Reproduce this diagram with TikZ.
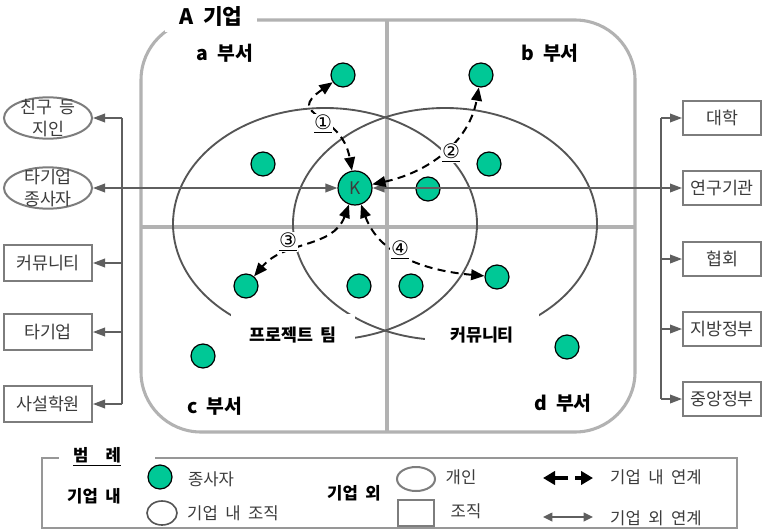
\documentclass[tikz,border=0pt]{standalone}
\usepackage{fontspec}
\setmainfont{Noto Sans CJK KR}[WordSpace=2]
\newfontfamily\numfont{DejaVu Sans}
\usetikzlibrary{arrows.meta,shapes.geometric}
\definecolor{empgreen}{RGB}{0,200,150}
\definecolor{framegray}{RGB}{178,178,178}
\definecolor{ellgray}{RGB}{85,85,85}
\definecolor{linegray}{RGB}{95,95,95}
\definecolor{boxgray}{RGB}{125,125,125}
\definecolor{txtgray}{RGB}{60,60,60}
\tikzset{
  bigframe/.style={draw=framegray, line width=2.3pt, rounded corners=45pt},
  divider/.style={draw=framegray, line width=3pt},
  orgell/.style={ellipse, draw=ellgray, line width=1.4pt, minimum width=228pt, minimum height=174pt, inner sep=0pt},
  gaplabel/.style={fill=white, inner sep=0pt, font=\bfseries\fontsize{13}{15}\selectfont, minimum height=31.5pt},
  dept/.style={font=\bfseries\fontsize{14.5}{17}\selectfont},
  emp/.style={circle, fill=empgreen, draw=black, line width=0.9pt, minimum size=18pt, inner sep=0pt},
  kemp/.style={circle, fill=empgreen, draw=black, line width=0.9pt, minimum size=25.5pt, inner sep=0pt, text=txtgray, font=\fontsize{13}{13}\selectfont},
  pers/.style={ellipse, draw=boxgray, line width=1.5pt, minimum width=66pt, minimum height=31pt, inner sep=0pt, fill=white},
  orgbox/.style={rectangle, draw=boxgray, line width=1.5pt, minimum width=66pt, minimum height=27pt, inner sep=0pt, fill=white, text=txtgray, font=\fontsize{13}{15}\selectfont},
  rbox/.style={orgbox, minimum width=58.5pt, minimum height=26pt},
  trunk/.style={draw=linegray, line width=1pt},
  conn/.style={draw=linegray, line width=1.1pt, -{Triangle[length=9pt,width=6.5pt]}},
  dasharr/.style={draw=black, line width=1.5pt, dash pattern=on 6pt off 4pt, {Triangle[length=10pt,width=8pt]}-{Triangle[length=10pt,width=8pt]}},
  numlab/.style={fill=white, inner sep=0.6pt, font=\numfont\fontsize{15}{15}\selectfont},
  legtxt/.style={text=txtgray, font=\fontsize{12.5}{14}\selectfont},
  legbold/.style={font=\bfseries\fontsize{12.5}{14}\selectfont},
}
\begin{document}
\begin{tikzpicture}[x=0.75pt,y=-0.75pt]
\useasboundingbox (0,0) rectangle (762,531);
\fill[white] (0,0) rectangle (762,531);

% company frame and dividers
\draw[bigframe] (141,20) rectangle (635,432);
\draw[divider] (387,20) -- (387,432);
\draw[divider] (141,227) -- (635,227);

% organisations inside
\node[orgell] (pt) at (325,224) {};
\node[orgell] (cm) at (445,224) {};
\node[gaplabel, minimum width=93pt] (ptl) at (293,335) {프로젝트 팀};
\node[gaplabel, minimum width=85pt] (cml) at (482,335) {커뮤니티};

% titles
\node[fill=white, inner sep=0pt, minimum width=69pt, minimum height=22pt, font=\bfseries\fontsize{16}{18}\selectfont] (A) at (211,17) {A 기업};
\node[dept] (da) at (225,53) {a 부서};
\node[dept] (db) at (550,53) {b 부서};
\node[dept] (dc) at (215,406) {c 부서};
\node[dept] (dd) at (563,403) {d 부서};

% employees
\node[emp] (e1) at (343,75) {};
\node[emp] (e2) at (263,164) {};
\node[emp] (e3) at (481,75) {};
\node[emp] (e4) at (489,164) {};
\node[emp] (e5) at (428,189) {};
\node[emp] (e6) at (246,286) {};
\node[emp] (e7) at (359,286) {};
\node[emp] (e8) at (411,286) {};
\node[emp] (e9) at (497,277) {};
\node[emp] (e10) at (203,356) {};
\node[emp] (e11) at (567,347) {};
\node[kemp] (K) at (355,188) {K};

% outside: left
\node[pers, label={[align=center, text=txtgray, font=\fontsize{13}{16.5}\selectfont]center:친구 등\\지인}] (L1) at (48,118) {};
\node[pers, label={[align=center, text=txtgray, font=\fontsize{13}{16.5}\selectfont]center:타기업\\종사자}] (L2) at (48,188) {};
\node[orgbox] (L3) at (48,263) {커뮤니티};
\node[orgbox] (L4) at (48,332) {타기업};
\node[orgbox] (L5) at (48,404) {사설학원};

% outside: right
\node[rbox] (R1) at (722,118) {대학};
\node[rbox] (R2) at (722,188) {연구기관};
\node[rbox] (R3) at (722,259) {협회};
\node[rbox] (R4) at (722,329) {지방정부};
\node[rbox] (R5) at (722,399) {중앙정부};

% left trunk
\coordinate (lt1) at (122,118);
\coordinate (lt2) at (122,188);
\coordinate (lt3) at (122,263);
\coordinate (lt4) at (122,332);
\coordinate (lt5) at (122,404);
\draw[trunk] (lt1) -- (lt5);
\foreach \i in {1,...,5} {\draw[conn] (lt\i) -- (L\i);}
\draw[conn] (lt2) -- (K);

% right trunk
\coordinate (rt1) at (661,118);
\coordinate (rt2) at (661,188);
\coordinate (rt3) at (661,259);
\coordinate (rt4) at (661,329);
\coordinate (rt5) at (661,399);
\draw[trunk] (rt1) -- (rt5);
\foreach \i in {1,...,5} {\draw[conn] (rt\i) -- (R\i);}
\draw[conn] (rt2) -- (K);

% internal links
\draw[dasharr] (e1) to[out=215, in=100, looseness=1.7] (K);
\draw[dasharr] (K) to[out=12, in=-100, looseness=1.0] (e3);
\draw[dasharr] (K) to[out=250, in=50, looseness=1.0] (e6);
\draw[dasharr] (K) to[out=290, in=175, looseness=1.0] (e9);
\node[numlab] (n1) at (323,124) {\underline{①}};
\node[numlab] (n2) at (451,153) {\underline{②}};
\node[numlab] (n3) at (288,242) {\underline{③}};
\node[numlab] (n4) at (400,250) {\underline{④}};

% legend
\draw[draw=boxgray!80, line width=1.2pt] (42,458) rectangle (737,528);
\node[fill=white, inner sep=0pt, minimum width=72pt, minimum height=31.5pt] (lgbg) at (107,461) {};
\node[legbold] (lgt) at (97,457) {\underline{범\hspace{13pt}례}};
\node[legbold] (lin) at (94,496) {기업 내};
\node[emp] (lemp) at (160,477) {};
\node[legtxt] (lempt) at (211,479) {종사자};
\node[ellipse, draw=ellgray, line width=1.2pt, minimum width=22.5pt, minimum height=18pt, inner sep=0pt] (lorg) at (162,513) {};
\node[legtxt] (lorgt) at (233,513) {기업 내 조직};
\node[legbold] (lout) at (354,493) {기업 외};
\node[pers, minimum width=28.5pt, minimum height=18pt] (lper) at (416,479) {};
\node[legtxt] (lpert) at (461,477) {개인};
\node[rectangle, draw=boxgray, line width=1.5pt, minimum width=27pt, minimum height=20pt, inner sep=0pt, fill=white] (lbox) at (416,513) {};
\node[legtxt] (lboxt) at (466,511) {조직};
\coordinate (la1) at (543,478);
\coordinate (la2) at (568,478);
\coordinate (la3) at (575,478);
\coordinate (la4) at (593,478);
\draw[black, line width=3pt, -{Triangle[length=9pt,width=10pt]}] (la2) -- (la1);
\draw[black, line width=3pt, -{Triangle[length=9pt,width=10pt]}] (la3) -- (la4);
\node[legtxt] (lint) at (656,477) {기업 내 연계};
\coordinate (lb1) at (543,517);
\coordinate (lb2) at (593,517);
\draw[draw=linegray, line width=1.1pt, {Triangle[length=7pt,width=6.5pt]}-{Triangle[length=7pt,width=6.5pt]}] (lb1) -- (lb2);
\node[legtxt] (lextt) at (656,518) {기업 외 연계};
\end{tikzpicture}
\end{document}
